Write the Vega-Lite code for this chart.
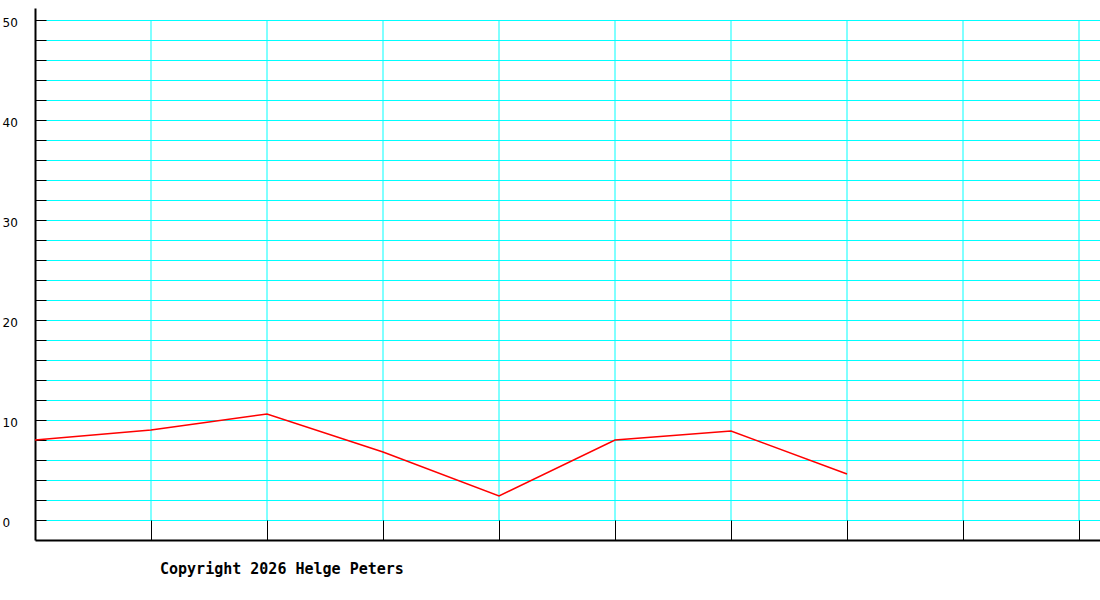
{
  "$schema": "https://vega.github.io/schema/vega-lite/v6.json",
  "width": 1065,
  "height": 532,
  "autosize": "none",
  "padding": {"left": 35, "top": 8, "right": 0, "bottom": 60},
  "background": "white",
  "title": {
    "text": "Copyright 2026 Helge Peters",
    "orient": "bottom",
    "anchor": "start",
    "frame": "group",
    "dx": 125,
    "offset": 28,
    "font": "DejaVu Sans Mono",
    "fontSize": 15,
    "fontWeight": "bold",
    "color": "black",
    "baseline": "middle"
  },
  "config": {"view": {"stroke": null}},
  "layer": [
    {
      "data": {"values": [{"g": 1}, {"g": 2}, {"g": 3}, {"g": 4}, {"g": 5}, {"g": 6}, {"g": 7}, {"g": 8}, {"g": 9}]},
      "mark": {"type": "rule", "color": "#00ffff", "strokeWidth": 1},
      "encoding": {
        "x": {
          "field": "g",
          "type": "quantitative",
          "scale": {"domain": [0, 9.181], "nice": false, "zero": false},
          "axis": {
            "values": [1, 2, 3, 4, 5, 6, 7, 8, 9],
            "tickCount": 20,
            "grid": false,
            "labels": false,
            "title": null,
            "ticks": true,
            "tickSize": -20,
            "tickColor": "black",
            "tickWidth": 1,
            "domainColor": "black",
            "domainWidth": 2
          }
        },
        "y": {
          "datum": 0,
          "type": "quantitative",
          "scale": {"domain": [-2, 51.2], "nice": false, "zero": false},
          "axis": {
            "values": [0, 2, 4, 6, 8, 10, 12, 14, 16, 18, 20, 22, 24, 26, 28, 30, 32, 34, 36, 38, 40, 42, 44, 46, 48, 50],
            "tickCount": 60,
            "grid": true,
            "gridColor": "#00ffff",
            "gridWidth": 1,
            "gridOpacity": 1,
            "ticks": true,
            "tickColor": "black",
            "tickSize": -11,
            "tickWidth": 1,
            "domainColor": "black",
            "domainWidth": 2,
            "labelExpr": "datum.value % 10 === 0 ? datum.label : ''",
            "labelAlign": "left",
            "labelBaseline": "middle",
            "labelPadding": 44,
            "labelOffset": 2,
            "labelFont": "DejaVu Sans",
            "labelFontSize": 12,
            "labelColor": "black",
            "labelOverlap": false,
            "labelFlush": false,
            "title": null
          }
        },
        "y2": {"datum": 50}
      }
    },
    {
      "data": {
        "values": [
          {"idx": 0, "value": 8.0},
          {"idx": 1, "value": 9.0},
          {"idx": 2, "value": 10.6},
          {"idx": 3, "value": 6.8},
          {"idx": 4, "value": 2.4},
          {"idx": 5, "value": 8.0},
          {"idx": 6, "value": 8.9},
          {"idx": 7, "value": 4.6}
        ]
      },
      "mark": {"type": "line", "color": "#ff0000", "strokeWidth": 1.5},
      "encoding": {
        "x": {"field": "idx", "type": "quantitative"},
        "y": {"field": "value", "type": "quantitative"}
      }
    }
  ]
}
